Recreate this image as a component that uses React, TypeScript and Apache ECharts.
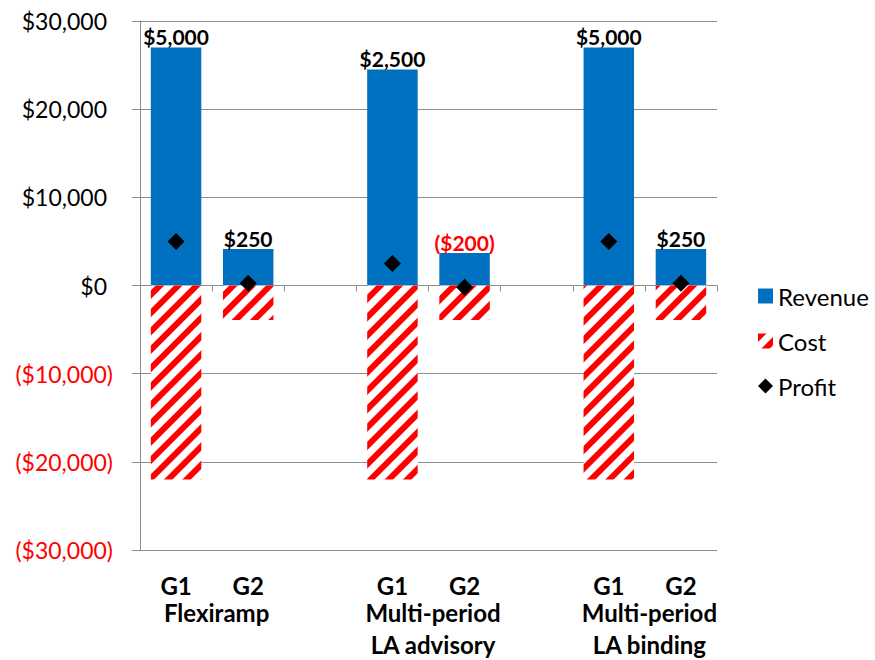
import React, { useEffect, useRef } from "react";
import * as echarts from "echarts";

// Two generators per market design; empty slots separate the designs.
const categories = ["G1", "G2", "", "G1", "G2", "", "G1", "G2"];
const revenue = [27000, 4150, null, 24500, 3700, null, 27000, 4150];
const cost = [-22000, -3900, null, -22000, -3900, null, -22000, -3900];
const profit = [5000, 250, null, 2500, -200, null, 5000, 250];

// Design names and the category boundary each one sits under.
const groupNames = ["Flexiramp", "Multi-period\nLA advisory", "Multi-period\nLA binding"];
const groupBoundaries = [1, 4, 7];

const yTicks = { min: -30000, max: 30000, interval: 10000 };

const FONT = "Lato, 'Liberation Sans', sans-serif";
const BLUE = "#0070C0";
const RED = "#FF0000";
const GRID = "#8e8e8e";

const money = (v: number) => {
  const s = "$" + Math.abs(v).toLocaleString("en-US");
  return v < 0 ? "(" + s + ")" : s;
};

export default function App() {
  const ref = useRef<HTMLDivElement>(null);

  useEffect(() => {
    if (!ref.current) return;
    const chart = echarts.init(ref.current, null, { renderer: "svg" });

    const stripes = {
      symbol: "rect",
      symbolSize: 1,
      color: RED,
      backgroundColor: "#ffffff",
      dashArrayX: [1, 0],
      dashArrayY: [5.5, 7],
      rotation: -Math.PI / 4,
    };

    chart.setOption({
      animation: false,
      backgroundColor: "#ffffff",
      textStyle: { fontFamily: FONT },
      grid: { left: 140, right: 158, top: 21, bottom: 109, containLabel: false },
      legend: {
        orient: "vertical",
        left: 753,
        top: 279,
        itemWidth: 15,
        itemHeight: 15,
        itemGap: 21,
        textStyle: { fontFamily: FONT, fontSize: 24, color: "#000" },
        data: [
          { name: "Revenue", icon: "rect" },
          { name: "Cost", icon: "rect" },
          { name: "Profit", icon: "diamond" },
        ],
      },
      xAxis: [
        {
          type: "category",
          data: categories,
          axisLine: { onZero: true, lineStyle: { color: GRID, width: 1 } },
          axisTick: { show: true, length: 6, lineStyle: { color: GRID } },
          axisLabel: { show: false },
          splitLine: { show: false },
        },
        {
          type: "category",
          data: categories,
          position: "bottom",
          axisLine: { show: false, onZero: false },
          axisTick: { show: false },
          axisLabel: {
            margin: 23,
            fontFamily: FONT,
            fontSize: 24,
            fontWeight: "bold",
            color: "#000",
            interval: 0,
          },
        },
        {
          type: "value",
          min: 0,
          max: categories.length,
          interval: 1,
          position: "bottom",
          axisLine: { show: false, onZero: false },
          axisTick: { show: false },
          splitLine: { show: false },
          axisLabel: {
            margin: 46,
            fontFamily: FONT,
            fontSize: 24,
            fontWeight: "bold",
            color: "#000",
            lineHeight: 32,
            padding: [0, 0, 0, 9],
            showMinLabel: true,
            showMaxLabel: true,
            formatter: (v: number) => {
              const i = groupBoundaries.indexOf(v);
              return i >= 0 ? groupNames[i] : "";
            },
          },
        },
      ],
      yAxis: {
        type: "value",
        min: yTicks.min,
        max: yTicks.max,
        interval: yTicks.interval,
        axisLine: { show: true, lineStyle: { color: GRID } },
        axisTick: { show: true, length: 8, lineStyle: { color: GRID } },
        splitLine: { show: true, lineStyle: { color: GRID, width: 1 } },
        axisLabel: {
          margin: 27,
          formatter: (v: number) => (v < 0 ? "{neg|" + money(v) + "}" : "{pos|" + money(v) + "}"),
          rich: {
            pos: { fontFamily: FONT, fontSize: 23, color: "#000", padding: [0, 6, 0, 0] },
            neg: { fontFamily: FONT, fontSize: 23, color: RED },
          },
        },
      },
      series: [
        {
          name: "Revenue",
          type: "bar",
          stack: "pl",
          xAxisIndex: 0,
          barWidth: "70%",
          itemStyle: { color: BLUE },
          data: revenue.map((v, i) =>
            v == null
              ? "-"
              : {
                  value: v,
                  label: {
                    show: true,
                    position: "top",
                    distance: 0,
                    fontFamily: FONT,
                    fontSize: 21,
                    fontWeight: "bold",
                    color: (profit[i] as number) < 0 ? RED : "#000",
                    formatter: () => money(profit[i] as number),
                  },
                }
          ),
        },
        {
          name: "Cost",
          type: "bar",
          stack: "pl",
          xAxisIndex: 0,
          barWidth: "70%",
          itemStyle: { color: "#ffffff", decal: stripes },
          data: cost.map((v) => (v == null ? "-" : v)),
        },
        {
          name: "Profit",
          type: "scatter",
          xAxisIndex: 0,
          symbol: "diamond",
          symbolSize: 17,
          itemStyle: { color: "#000", opacity: 1 },
          z: 5,
          data: profit.map((v) => (v == null ? "-" : v)),
        },
      ],
    });

    return () => chart.dispose();
  }, []);

  return (
    <div
      ref={ref}
      style={{ position: "absolute", left: 0, top: 0, width: 875, height: 660 }}
    />
  );
}
